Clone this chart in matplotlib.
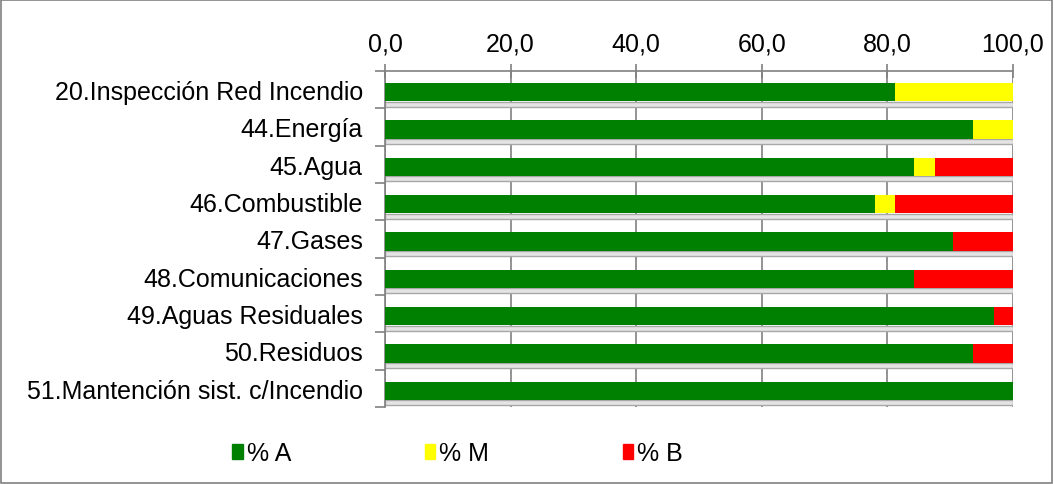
import matplotlib.pyplot as plt
import matplotlib.patches as patches
import numpy as np

plt.rcParams['font.family'] = ['Liberation Sans', 'DejaVu Sans']

categories = ['20.Inspección Red Incendio', '44.Energía', '45.Agua', '46.Combustible',
              '47.Gases', '48.Comunicaciones', '49.Aguas Residuales', '50.Residuos',
              '51.Mantención sist. c/Incendio']
pct_a = [81.2, 93.7, 84.2, 78.0, 90.5, 84.3, 96.9, 93.7, 100.0]
pct_m = [18.8, 6.3, 3.3, 3.2, 0.0, 0.0, 0.0, 0.0, 0.0]
pct_b = [0.0, 0.0, 12.5, 18.8, 9.5, 15.7, 3.1, 6.3, 0.0]
xticks = [0, 20, 40, 60, 80, 100]

fig = plt.figure(figsize=(10.54, 4.85), dpi=100)
ax = fig.add_axes([0.3653, 0.1588, 0.5958, 0.6928])

y = np.arange(len(categories))
a = np.array(pct_a)
m = np.array(pct_m)
b = np.array(pct_b)
total = a + m + b

# grey shadow strip under each bar
ax.barh(y + 0.39, total, height=0.13, color='#e4e4e4', edgecolor='#a8a8a8', linewidth=1.0, zorder=2)
ax.barh(y + 0.07, a, height=0.49, color='#008000', zorder=3)
ax.barh(y + 0.07, m, left=a, height=0.49, color='#ffff00', zorder=3)
ax.barh(y + 0.07, b, left=a + m, height=0.49, color='#ff0000', zorder=3)

ax.set_xlim(0, 100)
ax.set_ylim(len(categories) - 0.5, -0.5)
ax.xaxis.tick_top()
ax.set_xticks(xticks)
ax.set_xticklabels([f'{v:.1f}'.replace('.', ',') for v in xticks], fontsize=18)
ax.tick_params(axis='x', direction='inout', length=10, color='#808080', width=1.2, pad=6)
ax.set_yticks(y)
ax.set_yticklabels(categories, fontsize=18)
ax.tick_params(axis='y', length=0, pad=16)
ax.set_yticks(np.arange(-0.5, len(categories)), minor=True)
ax.tick_params(axis='y', which='minor', direction='out', length=7, color='#808080', width=1.2)
ax.grid(axis='x', color='#808080', linewidth=1.2, zorder=1)
ax.set_axisbelow(True)
for s in ['right', 'bottom']:
    ax.spines[s].set_visible(False)
for s in ['left', 'top']:
    ax.spines[s].set_color('#808080')
    ax.spines[s].set_linewidth(1.2)

handles = [patches.Patch(color='#008000'), patches.Patch(color='#ffff00'), patches.Patch(color='#ff0000')]
fig.legend(handles, ['% A', '% M', '% B'], loc='center', bbox_to_anchor=(0.434, 0.064), ncol=3,
           frameon=False, fontsize=18, handlelength=0.42, handleheight=0.55, handletextpad=0.15,
           columnspacing=5.35)

fig.patches.append(patches.Rectangle((0.001, 0.002), 0.997, 0.995, transform=fig.transFigure,
                                     fill=False, edgecolor='#808080', linewidth=1.2))
fig.savefig('out.png', dpi=100)
